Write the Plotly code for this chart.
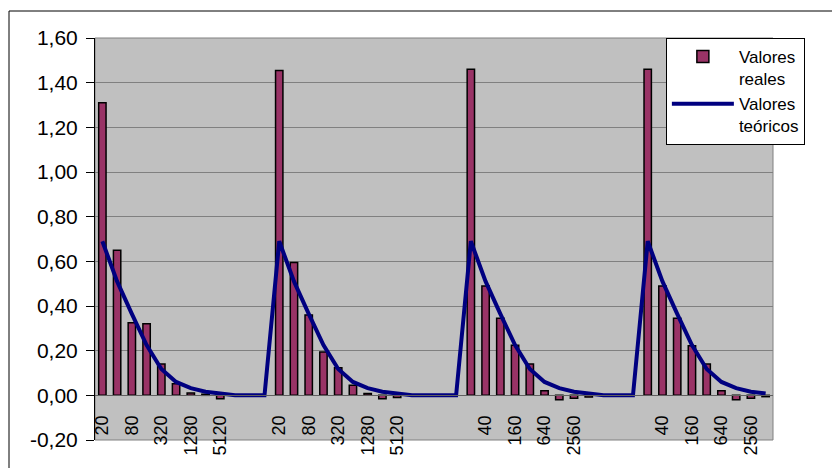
import plotly.graph_objects as go

# ---- data ----
group_labels = ["20", "40", "80", "160", "320", "640", "1280", "2560", "5120"]
categories = (group_labels + ["", "", ""]
              + group_labels + ["", "", "", ""]
              + group_labels + ["", "", ""]
              + group_labels)

valores_reales = [
    1.31, 0.65, 0.325, 0.32, 0.14, 0.052, 0.01, 0.005, -0.015, None, None, None,
    1.455, 0.595, 0.36, 0.194, 0.124, 0.045, 0.008, -0.015, -0.01, None, None, None, None,
    1.46, 0.49, 0.345, 0.224, 0.14, 0.02, -0.02, -0.013, -0.008, None, None, None,
    1.46, 0.49, 0.345, 0.222, 0.14, 0.02, -0.02, -0.013, -0.006,
]

valores_teoricos = [
    0.69, 0.51, 0.365, 0.225, 0.118, 0.06, 0.032, 0.016, 0.008, 0, 0, 0,
    0.69, 0.51, 0.365, 0.225, 0.118, 0.06, 0.032, 0.016, 0.008, 0, 0, 0, 0,
    0.69, 0.51, 0.365, 0.225, 0.118, 0.06, 0.032, 0.016, 0.008, 0, 0, 0,
    0.69, 0.51, 0.365, 0.225, 0.118, 0.06, 0.032, 0.016, 0.008,
]

y_tick_vals = [-0.2, 0.0, 0.2, 0.4, 0.6, 0.8, 1.0, 1.2, 1.4, 1.6]
y_tick_text = ["-0,20", "0,00", "0,20", "0,40", "0,60", "0,80", "1,00", "1,20", "1,40", "1,60"]

# ---- figure ----
x_idx = list(range(len(categories)))
tick_idx = x_idx[::2]
tick_txt = [categories[i] for i in tick_idx]

FONT = "Arial, Liberation Sans, sans-serif"

fig = go.Figure()
fig.add_trace(go.Bar(
    x=x_idx, y=valores_reales, name="Valores<br>reales",
    marker=dict(color="#993366", line=dict(color="black", width=1.5)),
))
fig.add_trace(go.Scatter(
    x=x_idx, y=valores_teoricos, name="Valores<br>teóricos", mode="lines",
    line=dict(color="#000080", width=4),
))

y_min, y_max = -0.2, 1.6

fig.update_layout(
    width=832, height=468,
    margin=dict(l=95, r=59, t=38, b=28),
    paper_bgcolor="white",
    plot_bgcolor="#C0C0C0",
    bargap=0.5,
    font=dict(family=FONT, size=16, color="black"),
    showlegend=True,
    legend=dict(
        x=0.842, y=1.0, xanchor="left", yanchor="top",
        bgcolor="white", bordercolor="black", borderwidth=1,
        font=dict(family=FONT, size=17, color="black"),
        traceorder="normal", itemwidth=62, valign="top",
    ),
    xaxis=dict(
        range=[-0.5, len(categories) - 0.5],
        tickmode="array", tickvals=tick_idx, ticktext=tick_txt,
        tickangle=-90,
        tickfont=dict(family=FONT, size=18, color="black"),
        anchor="free", position=(0 - y_min) / (y_max - y_min),
        showline=True, linecolor="#606060", linewidth=1,
        showgrid=False, zeroline=False,
        ticks="", ticklabelstandoff=12,
    ),
    yaxis=dict(
        range=[y_min, y_max],
        tickmode="array", tickvals=y_tick_vals, ticktext=y_tick_text,
        tickfont=dict(family=FONT, size=21, color="black"),
        showline=True, linecolor="black", linewidth=1,
        ticks="outside", ticklen=8, tickcolor="black",
        ticklabelstandoff=4,
        showgrid=True, gridcolor="#808080", gridwidth=1,
        zeroline=False,
    ),
    shapes=[
        # plot area border
        dict(type="rect", xref="paper", yref="paper", x0=0, x1=1, y0=0, y1=1,
             line=dict(color="#808080", width=1), fillcolor="rgba(0,0,0,0)", layer="below"),
        # chart area border
        dict(type="rect", xref="paper", yref="paper",
             x0=(9 - 95) / 678, x1=1.3, y0=-0.3, y1=(440 - 11) / 402,
             line=dict(color="black", width=1), fillcolor="rgba(0,0,0,0)", layer="below"),
    ],
)

fig.write_html("out.html")
